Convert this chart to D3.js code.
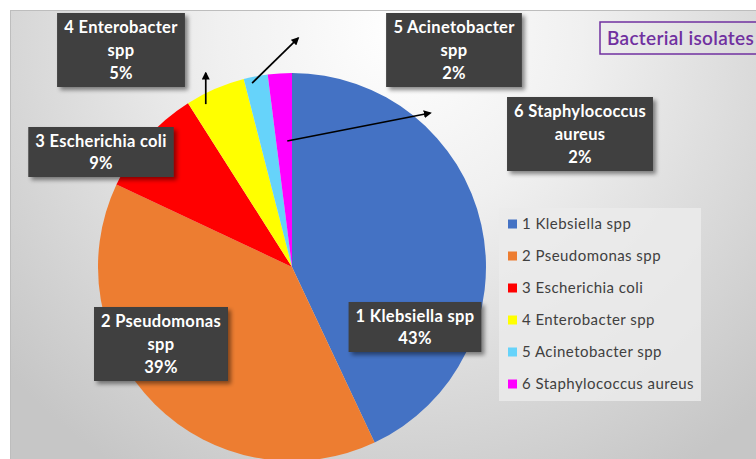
<!DOCTYPE html>
<html>
<head>
<meta charset="utf-8">
<script src="https://cdn.jsdelivr.net/npm/d3@7.9.0/dist/d3.min.js"></script>
<style>
  html, body { margin: 0; padding: 0; background: #fff; overflow: hidden; }
  svg { display: block; font-family: Lato, "DejaVu Sans", sans-serif; }
</style>
</head>
<body>
<svg id="chart" width="756" height="459"></svg>
<script>
// data
const categories = ['1 Klebsiella spp', '2 Pseudomonas spp', '3 Escherichia coli',
  '4 Enterobacter spp', '5 Acinetobacter spp', '6 Staphylococcus aureus'];
const percents = [43, 39, 9, 5, 2, 2];
const colors = ['#4472C4', '#ED7D31', '#FF0000', '#FFFF00', '#66D3FA', '#FF00FF'];
// how the data labels wrap in the boxes
const labelLines = [
  ['1 Klebsiella spp'],
  ['2 Pseudomonas', 'spp'],
  ['3 Escherichia coli'],
  ['4 Enterobacter', 'spp'],
  ['5 Acinetobacter', 'spp'],
  ['6 Staphylococcus', 'aureus']
];
const chartTitle = 'Bacterial isolates';

// layout
const W = 756, H = 459;
const cx = 292, cy = 267, R = 194;
// centre of each label box
const labelPos = [[415, 327], [161, 344], [101, 152], [121, 50], [454, 50], [580, 134]];
// leader arrows: slice index, fraction along slice, radius fraction, offset of tip
const leaders = [
  { i: 3, t: 0.25, rf: 0.95, dx: 0, dy: -31 },
  { i: 4, t: 0.3, rf: 0.97, dx: 46, dy: -45 },
  { i: 5, t: 0.7, rf: 0.65, dx: 143, dy: -28 }
];

const svg = d3.select('#chart');
const defs = svg.append('defs');

const grad = defs.append('radialGradient')
  .attr('id', 'bg').attr('gradientUnits', 'userSpaceOnUse')
  .attr('cx', 400).attr('cy', 30).attr('r', 520);
grad.append('stop').attr('offset', 0).attr('stop-color', '#ffffff');
grad.append('stop').attr('offset', 0.35).attr('stop-color', '#f0f0f0');
grad.append('stop').attr('offset', 1).attr('stop-color', '#c6c6c6');

const shadow = defs.append('filter').attr('id', 'shadow')
  .attr('x', '-20%').attr('y', '-20%').attr('width', '150%').attr('height', '150%');
shadow.append('feDropShadow').attr('dx', 3).attr('dy', 3).attr('stdDeviation', 2)
  .attr('flood-color', '#000').attr('flood-opacity', 0.45);

const arrowHead = defs.append('marker').attr('id', 'arrow')
  .attr('viewBox', '0 0 10 10').attr('refX', 8).attr('refY', 5)
  .attr('markerWidth', 8).attr('markerHeight', 8).attr('orient', 'auto')
  .attr('markerUnits', 'userSpaceOnUse');
arrowHead.append('path').attr('d', 'M0,0 L10,5 L0,10 Z').attr('fill', '#000');

// chart area
svg.append('rect')
  .attr('x', 10.5).attr('y', 10.5).attr('width', W).attr('height', H)
  .attr('fill', 'url(#bg)').attr('stroke', '#bdbdbd');

// pie
const pie = d3.pie().sort(null).value(d => d);
const arcs = pie(percents);
const arc = d3.arc().innerRadius(0).outerRadius(R);

const g = svg.append('g').attr('transform', `translate(${cx},${cy})`);
g.selectAll('path')
  .data(arcs)
  .join('path')
  .attr('d', arc)
  .attr('fill', (d, i) => colors[i]);

// leader arrows
function polar(a, r) {
  return [cx + r * Math.sin(a), cy - r * Math.cos(a)];
}
leaders.forEach(l => {
  const a = arcs[l.i];
  const ang = a.startAngle + (a.endAngle - a.startAngle) * l.t;
  const [x1, y1] = polar(ang, R * l.rf);
  svg.append('line')
    .attr('x1', x1).attr('y1', y1)
    .attr('x2', x1 + l.dx).attr('y2', y1 + l.dy)
    .attr('stroke', '#000').attr('stroke-width', 1.7)
    .attr('marker-end', 'url(#arrow)');
});

// data label boxes
const lineH = 23;
const labels = svg.selectAll('g.lbl')
  .data(arcs)
  .join('g')
  .attr('class', 'lbl')
  .attr('transform', (d, i) => `translate(${labelPos[i][0]},${labelPos[i][1]})`);

labels.each(function (d, i) {
  const grp = d3.select(this);
  const lines = labelLines[i].concat([d3.format('.0f')(percents[i]) + '%']);
  const box = grp.append('rect').attr('fill', '#3f3f3f').attr('filter', 'url(#shadow)');
  const txt = grp.append('text')
    .attr('text-anchor', 'middle')
    .attr('fill', '#fff')
    .attr('font-weight', 700)
    .attr('font-size', 16.5)
    .attr('letter-spacing', 0.3);
  const n = lines.length;
  const gap = n === 2 ? 22 : lineH;
  lines.forEach((s, k) => {
    txt.append('tspan')
      .attr('x', 0)
      .attr('y', (k - (n - 1) / 2) * gap + 6)
      .text(s);
  });
  const bb = txt.node().getBBox();
  const w = bb.width + 14;
  const h = (n - 1) * gap + 28;
  box.attr('x', -w / 2).attr('y', -h / 2).attr('width', w).attr('height', h);
});

// title box
const title = svg.append('g');
title.append('rect')
  .attr('x', 600).attr('y', 22).attr('width', 170).attr('height', 32)
  .attr('fill', 'none').attr('stroke', '#7030A0').attr('stroke-width', 1.5);
title.append('text')
  .attr('x', 607).attr('y', 45)
  .attr('fill', '#7030A0')
  .attr('font-size', 19)
  .attr('font-weight', 600)
  .attr('letter-spacing', 0.3)
  .text(chartTitle);

// legend
const lx = 499, ly = 208, lw = 202, lh = 193;
svg.append('rect')
  .attr('x', lx).attr('y', ly).attr('width', lw).attr('height', lh)
  .attr('fill', '#ebebeb').attr('opacity', 0.85);

const y = d3.scalePoint().domain(categories).range([224, 384]);
const items = svg.selectAll('g.leg')
  .data(categories)
  .join('g')
  .attr('class', 'leg')
  .attr('transform', d => `translate(508,${y(d)})`);
items.append('rect')
  .attr('x', 0).attr('y', -4.5).attr('width', 9).attr('height', 9)
  .attr('fill', (d, i) => colors[i]);
items.append('text')
  .attr('x', 14).attr('y', 5)
  .attr('fill', '#404040')
  .attr('font-size', 15)
  .attr('letter-spacing', 0.45)
  .text(d => d);
</script>
</body>
</html>
